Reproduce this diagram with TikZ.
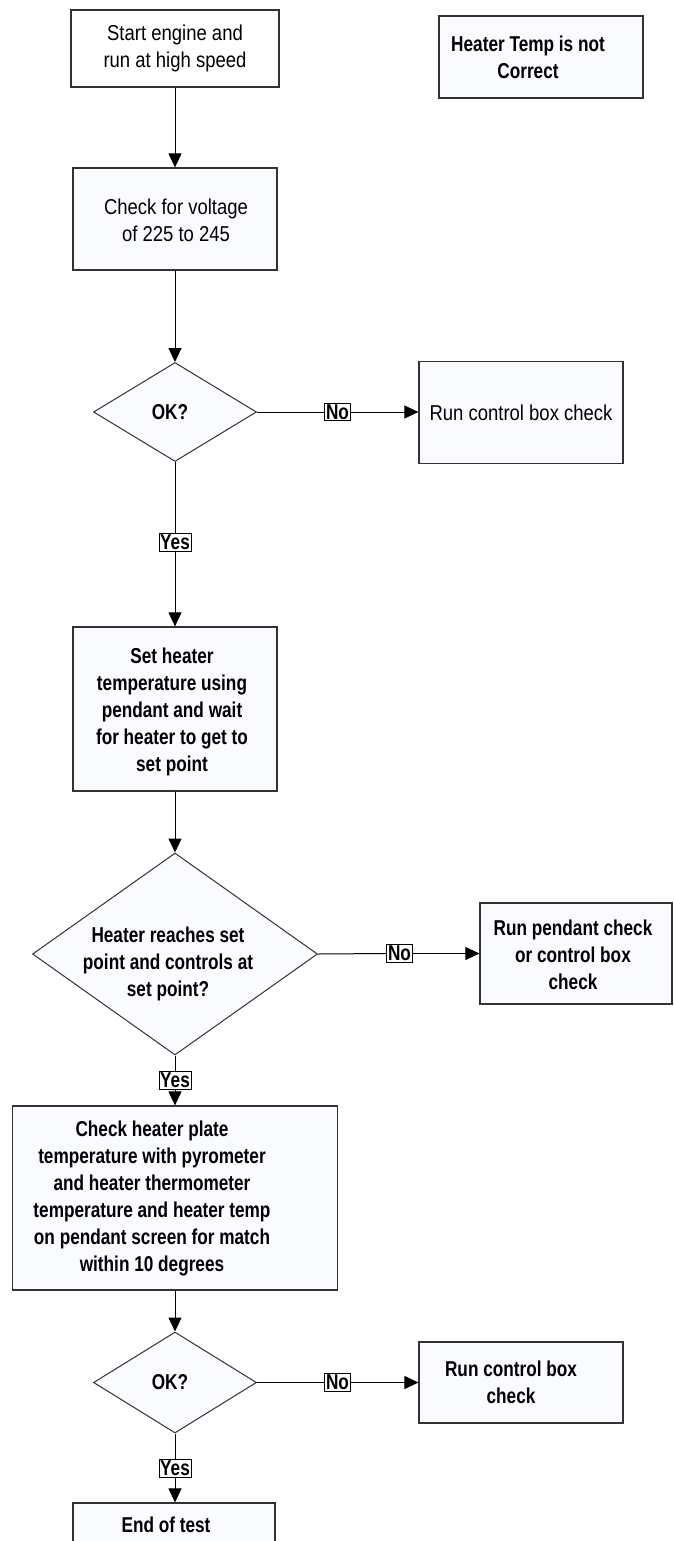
\documentclass[tikz,border=0pt]{standalone}
\usepackage{fontspec}
\setmainfont{Liberation Sans}[FakeStretch=0.86]
\newfontfamily\bfnarrow{Liberation Sans}[FakeStretch=0.80]
\usetikzlibrary{shapes.geometric,arrows.meta}
\newcommand\rgfont{\fontsize{21.5}{27}\selectfont}
\newcommand\bdfont{\bfnarrow\bfseries\fontsize{21.5}{27}\selectfont}
\definecolor{bord}{RGB}{50,50,50}
\definecolor{boxfill}{RGB}{250,251,254}
\tikzset{
  box/.style={draw=bord, line width=1.2pt, fill=boxfill, inner sep=0pt, align=center},
  dia/.style={diamond, draw=bord, line width=1pt, fill=boxfill, inner sep=0pt, align=center},
  txt/.style={inner sep=0pt, align=center},
  lab/.style={draw=black, fill=white, line width=0.9pt, inner sep=1.2pt, font=\bdfont},
  arr/.style={-{Triangle[length=14pt,width=13pt]}, line width=1pt},
  ln/.style={line width=1pt}
}
\begin{document}
\begin{tikzpicture}[x=1pt,y=-1pt]
\clip (0,0) rectangle (673,1541);
\fill[white] (0,0) rectangle (673,1541);
% boxes
\node[box, fill=white, minimum width=208pt, minimum height=77pt, font=\rgfont] (start) at (175,48.5) {Start engine and\\run at high speed};
\node[box, minimum width=204pt, minimum height=102pt] (volt) at (175,219) {};
\node[txt, font=\rgfont] (voltt) at (176,220) {Check for voltage\\of 225 to 245};
\node[box, minimum width=204pt, minimum height=82pt] (htc) at (541,57) {};
\node[txt, font=\bdfont] (htct) at (528,57) {Heater Temp is not\\Correct};
\node[dia, minimum width=163pt, minimum height=99pt] (ok1) at (175,412) {};
\node[txt, font=\bdfont] (ok1t) at (170,412) {OK?};
\node[box, minimum width=204pt, minimum height=102pt, font=\rgfont] (ctrl1) at (521,412.5) {Run control box check};
\node[box, minimum width=204pt, minimum height=164pt] (setheat) at (175,709) {};
\node[txt, font=\bdfont] (setheatt) at (172,712) {Set heater\\temperature using\\pendant and wait\\for heater to get to\\set point};
\node[dia, minimum width=285pt, minimum height=202pt] (reach) at (175,954) {};
\node[txt, font=\bdfont] (reacht) at (168,964) {Heater reaches set\\point and controls at\\set point?};
\node[box, minimum width=192pt, minimum height=101pt] (pend) at (576,953.5) {};
\node[txt, font=\bdfont] (pendt) at (573,955) {Run pendant check\\or control box\\check};
\node[box, minimum width=325pt, minimum height=184pt] (plate) at (175,1198) {};
\node[txt, font=\bdfont] (platet) at (152,1198) {Check heater plate\\temperature with pyrometer\\and heater thermometer\\temperature and heater temp\\on pendant screen for match\\within 10 degrees};
\node[dia, minimum width=163pt, minimum height=101pt] (ok3) at (175,1382.5) {};
\node[txt, font=\bdfont] (ok3t) at (170,1382) {OK?};
\node[box, minimum width=204pt, minimum height=81pt] (ctrl2) at (521,1382.5) {};
\node[txt, font=\bdfont] (ctrl2t) at (511,1382) {Run control box\\check};
\node[box, minimum width=202pt, minimum height=57pt] (endt) at (174,1531.5) {};
\node[txt, font=\bdfont] (endtt) at (166,1525) {End of test};
% labels
\node[lab] (no1) at (337.5,412) {No};
\node[lab] (yes1) at (175,542.5) {Yes};
\node[lab] (no2) at (399.5,953.5) {No};
\node[lab] (yes2) at (175,1080.5) {Yes};
\node[lab] (no3) at (337.5,1382.5) {No};
\node[lab] (yes3) at (175,1468.5) {Yes};
% connectors
\draw[arr] (start.south) -- (volt.north);
\draw[arr] (volt.south) -- (ok1.north);
\draw[ln] (ok1.east) -- (no1.west);
\draw[arr] (no1.east) -- (no1.east -| ctrl1.west);
\draw[ln] (ok1.south) -- (yes1.north);
\draw[arr] (yes1.south) -- (setheat.north);
\draw[arr] (setheat.south) -- (reach.north);
\draw[ln] (reach.east) -- (no2.west);
\draw[arr] (no2.east) -- (no2.east -| pend.west);
\draw[ln] (reach.south) -- (yes2.north);
\draw[arr] (yes2.south) -- (plate.north);
\draw[arr] (plate.south) -- (ok3.north);
\draw[ln] (ok3.east) -- (no3.west);
\draw[arr] (no3.east) -- (no3.east -| ctrl2.west);
\draw[ln] (ok3.south) -- (yes3.north);
\draw[arr] (yes3.south) -- (yes3.south |- endt.north);
\end{tikzpicture}
\end{document}
